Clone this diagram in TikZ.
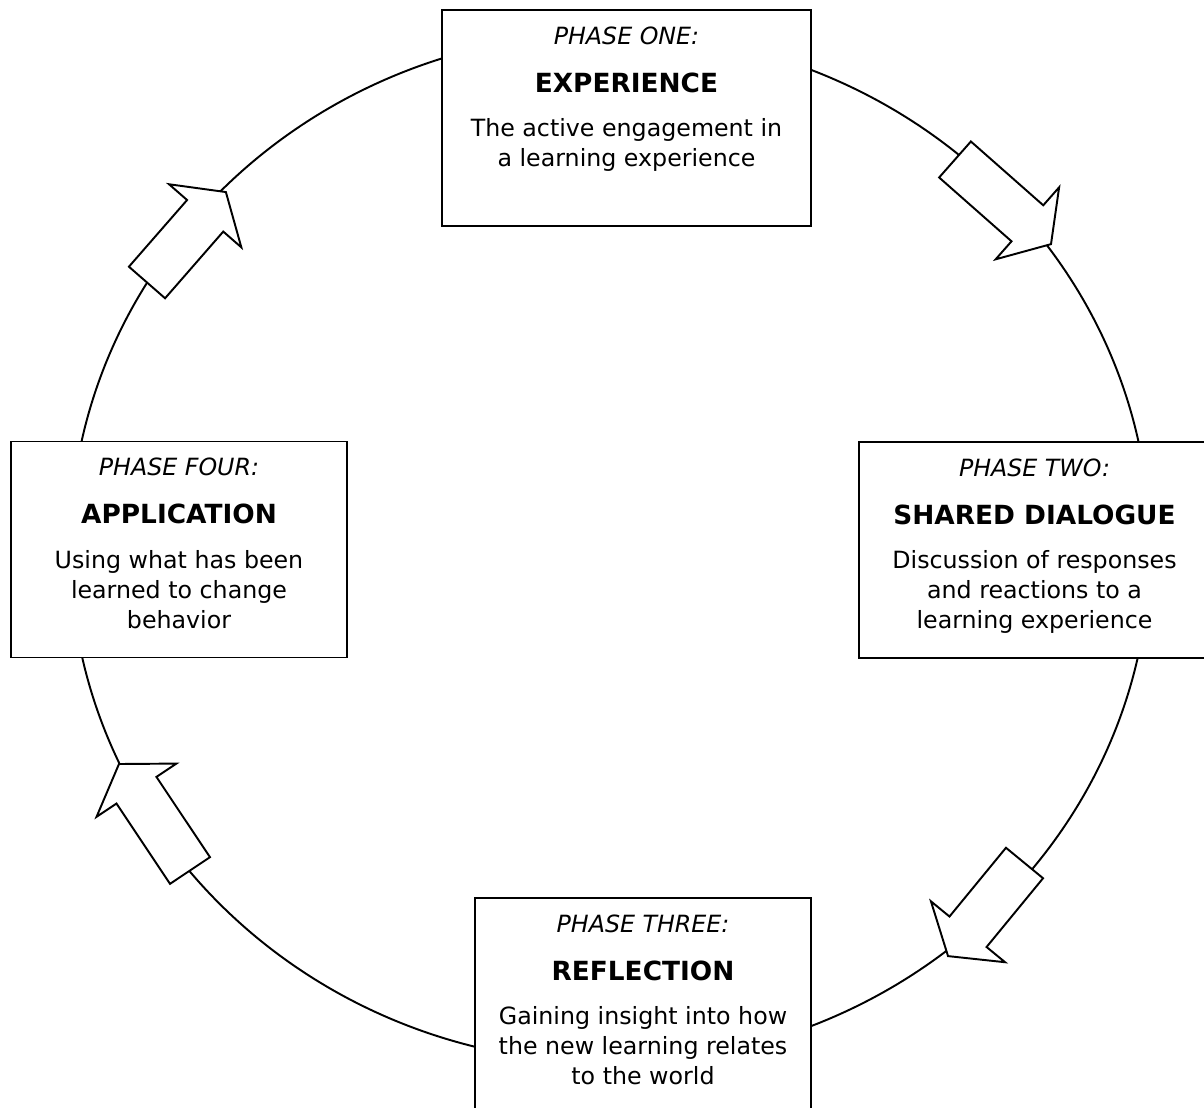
\documentclass[tikz,border=0pt]{standalone}
\usepackage{fontspec}
\setmainfont{DejaVu Sans}[ItalicFont={DejaVu Sans Oblique}, BoldFont={DejaVu Sans Bold}]
\usetikzlibrary{positioning}

\tikzset{
  phasebox/.style={draw, fill=white, line width=1.1pt, rectangle, minimum height=4.32cm, inner sep=0pt},
  phasetext/.style={align=center, inner sep=0pt, font=\fontsize{13.5}{17.07}\selectfont},
  arrowbody/.style={draw, fill=white, line width=1.1pt, line join=miter},
  cycleline/.style={draw, line width=1.1pt}
}
\newcommand{\phasename}[1]{{\fontsize{15}{17.07}\selectfont\bfseries #1}}

\begin{document}
\begin{tikzpicture}
  \path[use as bounding box, fill=white] (0, 0) rectangle (24.08, 22.14);
  \clip (0, 0) rectangle (24.08, 22.14);

  % the cycle itself
  \coordinate (hub) at (12.2, 11.18);
  \draw[cycleline] (hub) ellipse [x radius=10.8, y radius=10.3];

  % block arrows sitting on the cycle: tail x / tail y / angle / length
  \foreach \x/\y/\a/\l in {19.10/18.95/-41.4/2.56, 20.49/4.88/-129.4/2.41, 3.80/4.73/123.7/2.56, 2.94/16.49/48.9/2.40} {
    \draw[arrowbody, shift={(\x, \y)}, rotate=\a] (0, -0.48) -- ({\l - 0.63}, -0.48) -- ({\l - 0.63}, -0.96) -- (\l, 0) -- ({\l - 0.63}, 0.96) -- ({\l - 0.63}, 0.48) -- (0, 0.48) -- cycle;
  }

  % the four phases
  \node[phasebox, minimum width=7.38cm] (experience) at (12.53, 19.78) {};
  \node[phasetext, below=0.35cm of experience.north] (experience text) {
    \textit{PHASE ONE:}\\[10pt]\phasename{EXPERIENCE}\\[8.3pt]The active engagement in\\a learning experience};

  \node[phasebox, minimum width=7.02cm] (dialogue) at (20.69, 11.14) {};
  \node[phasetext, below=0.35cm of dialogue.north] (dialogue text) {
    \textit{PHASE TWO:}\\[10pt]\phasename{SHARED DIALOGUE}\\[8.3pt]Discussion of responses\\and reactions to a\\learning experience};

  \node[phasebox, minimum width=6.72cm] (reflection) at (12.86, 2.02) {};
  \node[phasetext, below=0.35cm of reflection.north] (reflection text) {
    \textit{PHASE THREE:}\\[10pt]\phasename{REFLECTION}\\[8.3pt]Gaining insight into how\\the new learning relates\\to the world};

  \node[phasebox, minimum width=6.72cm] (application) at (3.58, 11.15) {};
  \node[phasetext, below=0.35cm of application.north] (application text) {
    \textit{PHASE FOUR:}\\[10pt]\phasename{APPLICATION}\\[8.3pt]Using what has been\\learned to change\\behavior};
\end{tikzpicture}
\end{document}
